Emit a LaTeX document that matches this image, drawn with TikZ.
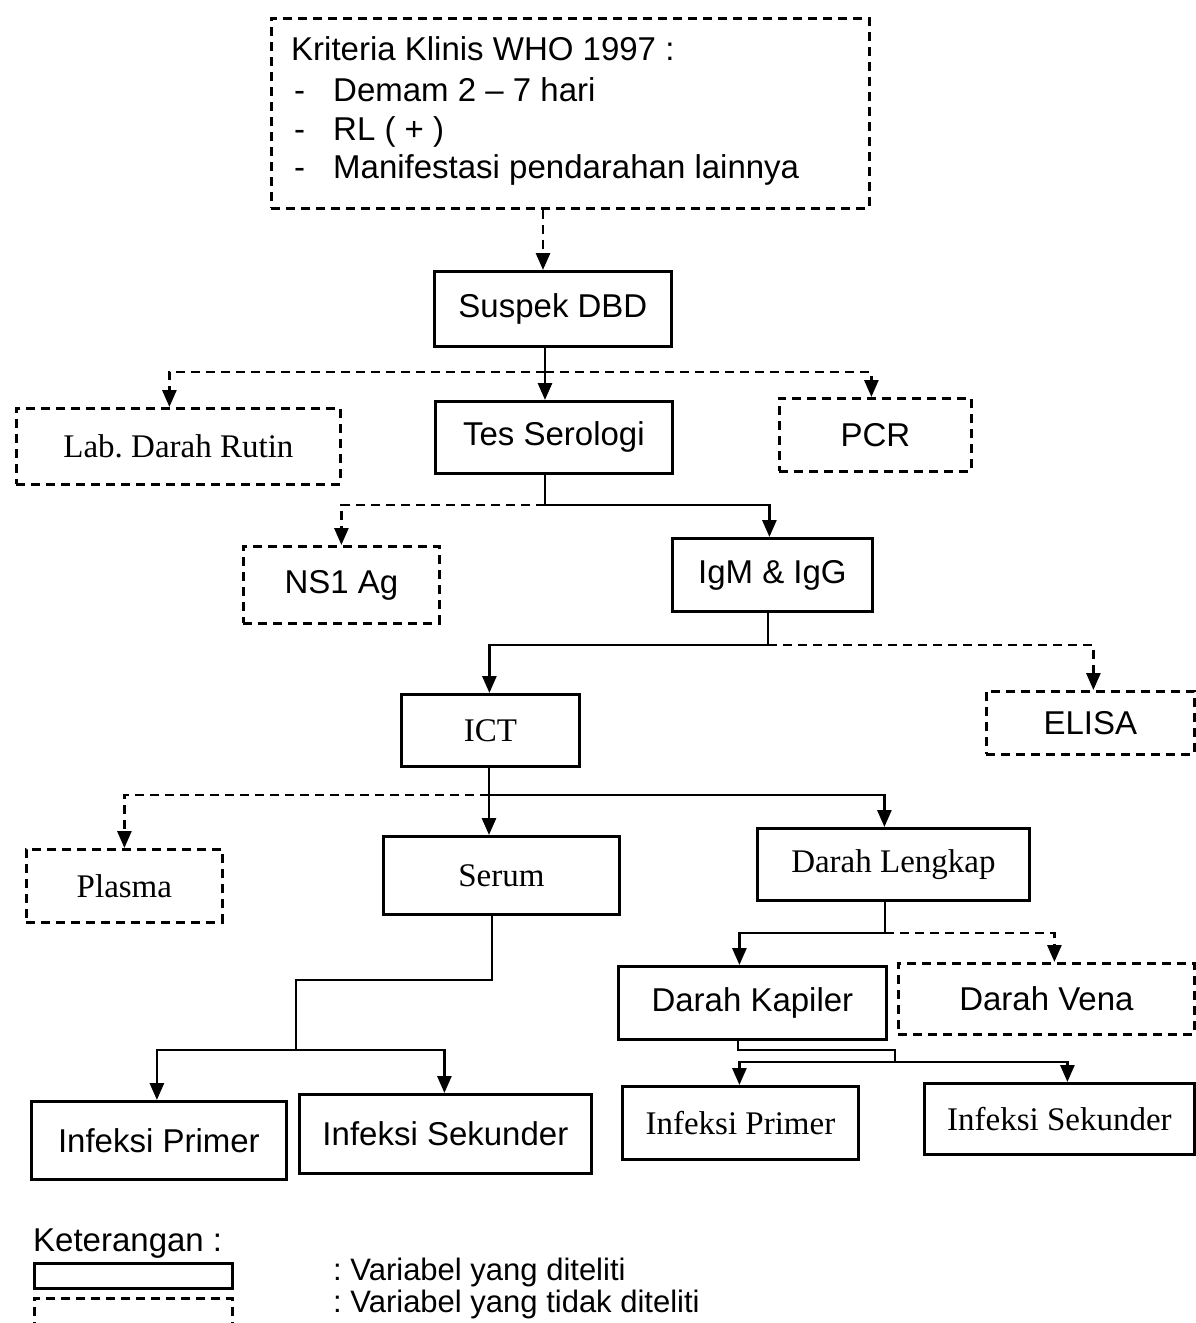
\documentclass[tikz,border=0pt]{standalone}
\usepackage{fontspec}
\setmainfont{Liberation Serif}
\newfontfamily\sansf{Liberation Sans}
\usetikzlibrary{arrows.meta}
\frenchspacing
\begin{document}
\begin{tikzpicture}[x=1pt,y=-1pt,
  basebox/.style={anchor=north west,inner sep=0pt,line width=2.8pt},
  sbox/.style={basebox,draw},
  dbox/.style={basebox,draw,dash pattern=on 9pt off 6pt},
  sf/.style={font=\sansf\fontsize{33}{39}\selectfont},
  rm/.style={font=\rmfamily\fontsize{33}{39}\selectfont},
  txt/.style={anchor=base west,inner sep=0pt,font=\sansf\fontsize{33}{39}\selectfont},
  sl/.style={line width=2.8pt,-{Triangle[length=17pt,width=14pt]}},
  sln/.style={line width=2.8pt},
  dl/.style={sl,dash pattern=on 9pt off 6pt}]
\useasboundingbox (0,0) rectangle (1195,1323);

% boxes
\node[dbox,minimum width=598,minimum height=190] (kriteria) at (270,17) {};
\node[txt] (k1) at (291,60) {Kriteria Klinis WHO 1997 :};
\node[txt] (k2) at (294,101) {\makebox[39pt][l]{-}Demam 2 – 7 hari};
\node[txt] (k3) at (294,140) {\makebox[39pt][l]{-}RL ( + )};
\node[txt] (k4) at (294,178) {\makebox[39pt][l]{-}Manifestasi pendarahan lainnya};

\node[sbox,sf,minimum width=237,minimum height=75] (suspek) at (433,270) {Suspek DBD};
\node[dbox,rm,minimum width=324,minimum height=76] (lab) at (15,407) {Lab. Darah Rutin};
\node[sbox,sf,minimum width=237,minimum height=72] (tes) at (434,400) {Tes Serologi};
\node[dbox,sf,minimum width=192,minimum height=73] (pcr) at (778,397) {PCR};
\node[dbox,sf,minimum width=196,minimum height=77] (ns1) at (242,545) {NS1 Ag};
\node[sbox,sf,minimum width=200,minimum height=73] (igm) at (671,537) {IgM \& IgG};
\node[sbox,rm,minimum width=178,minimum height=72] (ict) at (400,693) {ICT};
\node[dbox,sf,minimum width=208,minimum height=63] (elisa) at (985,690) {ELISA};
\node[dbox,rm,minimum width=196,minimum height=73] (plasma) at (25,848) {Plasma};
\node[sbox,rm,minimum width=236,minimum height=78] (serum) at (382,835) {Serum};
\node[sbox,rm,minimum width=272,minimum height=72] (lengkap) at (756,827) {Darah Lengkap};
\node[sbox,sf,minimum width=268,minimum height=73] (kapiler) at (617,965) {Darah Kapiler};
\node[dbox,sf,minimum width=296,minimum height=71] (vena) at (897,962) {Darah Vena};
\node[sbox,sf,minimum width=255,minimum height=78] (ip1) at (30,1100) {Infeksi Primer};
\node[sbox,sf,minimum width=292,minimum height=79] (is1) at (298,1093) {Infeksi Sekunder};
\node[sbox,rm,minimum width=236,minimum height=73] (ip2) at (621,1085) {Infeksi Primer};
\node[sbox,rm,minimum width=270,minimum height=71] (is2) at (923,1082) {Infeksi Sekunder};

% connectors
\coordinate (j0) at (543,240);
\draw[dl] (kriteria.south -| j0) -- (suspek.north -| j0);
\coordinate (j1) at (545,372);
\draw[sl] (suspek.south -| j1) -- (tes.north -| j1);
\draw[dl] (j1) -| ([xshift=-9pt]lab.north);
\draw[dl] (j1) -| ([xshift=-4pt]pcr.north);

\coordinate (j2) at (545,505);
\draw[sln] (tes.south -| j2) -- (j2);
\draw[sl] (j2) -| ([xshift=-3pt]igm.north);
\draw[dl] (j2) -| (ns1.north);

\coordinate (j3) at (768,645);
\draw[sln] (igm.south -| j3) -- (j3);
\draw[sl] (j3) -| ([xshift=-1pt]ict.north);
\draw[dl] (j3) -| ([xshift=3pt]elisa.north);

\coordinate (j4) at (489,795);
\draw[sl] (ict.south -| j4) -- (serum.north -| j4);
\draw[dl] (j4) -| (plasma.north);
\draw[sl] (j4) -| ([xshift=-9pt]lengkap.north);

\coordinate (j5a) at (492,980);
\coordinate (j5b) at (296,980);
\coordinate (j5) at (296,1050);
\draw[sln] (serum.south -| j5a) -- (j5a) -- (j5b) -- (j5);
\draw[sl] (j5) -| ([xshift=-2pt]ip1.north);
\draw[sl] (j5) -| ([xshift=-1pt]is1.north);

\coordinate (j6) at (885,933);
\draw[sln] (lengkap.south -| j6) -- (j6);
\draw[sl] (j6) -| ([xshift=-13pt]kapiler.north);
\draw[dl] (j6) -| ([xshift=8pt]vena.north);

\coordinate (j7c) at (738,1050);
\coordinate (j7a) at (895,1050);
\coordinate (j7) at (895,1062);
\draw[sln] (kapiler.south -| j7c) -- (j7c) -- (j7a) -- (j7);
\draw[sl] (j7) -| ([xshift=-1pt]ip2.north);
\draw[sl] (j7) -| ([xshift=8pt]is2.north);

% legend
\node[txt] (ket) at (33,1251) {Keterangan :};
\node[sbox,minimum width=198,minimum height=25] (legs) at (33,1262) {};
\node[dbox,minimum width=198,minimum height=45] (legd) at (33,1297) {};
\node[txt,font=\sansf\fontsize{31}{37}\selectfont] (lt1) at (333,1280) {: Variabel yang diteliti};
\node[txt,font=\sansf\fontsize{31}{37}\selectfont] (lt2) at (333,1312) {: Variabel yang tidak diteliti};
\end{tikzpicture}
\end{document}
